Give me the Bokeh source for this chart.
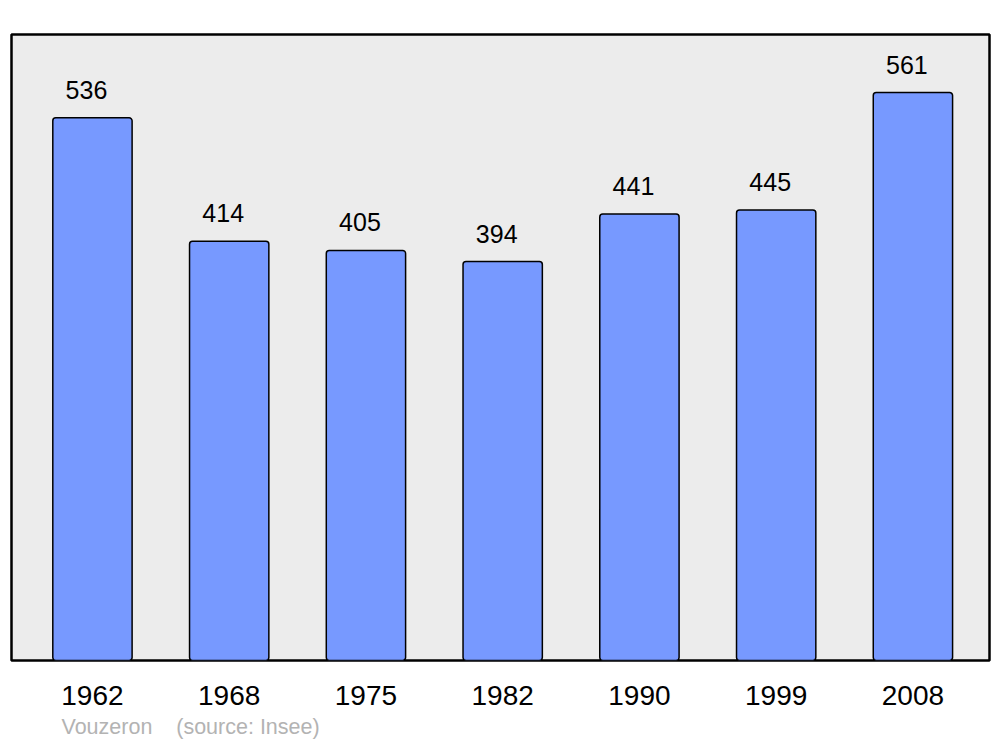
from bokeh.plotting import figure
from bokeh.models import ColumnDataSource, Range1d, FixedTicker, Title
from bokeh.core.properties import value
from bokeh.embed import file_html
from bokeh.resources import INLINE

years = ["1962", "1968", "1975", "1982", "1990", "1999", "2008"]
population = [536, 414, 405, 394, 441, 445, 561]
positions = list(range(len(years)))

src = ColumnDataSource(dict(x=positions, top=population,
                            label=[str(v) for v in population]))

p = figure(width=1000, height=745, output_backend="svg", toolbar_location=None,
           x_range=Range1d(-0.592, 6.56), y_range=Range1d(0, 618.3),
           min_border_left=11, min_border_right=11, min_border_top=34,
           min_border_bottom=85)
p.background_fill_color = "#ececec"
p.border_fill_color = "white"
p.outline_line_color = "black"
p.outline_line_width = 2.5
p.xgrid.visible = False
p.ygrid.visible = False
p.yaxis.visible = False

p.vbar(x="x", top="top", bottom=0, width=0.58, source=src,
       fill_color="#7799ff", line_color="black", line_width=1.5,
       border_radius=3)

p.text(x="x", y="top", text="label", source=src, x_offset=-6, y_offset=-28,
       text_align="center", text_baseline="alphabetic",
       text_font=value("Liberation Sans"), text_font_size="25px",
       text_color="black")

ax = p.xaxis[0]
ax.ticker = FixedTicker(ticks=positions)
ax.major_label_overrides = {i: y for i, y in enumerate(years)}
ax.axis_line_color = None
ax.major_tick_line_color = None
ax.minor_tick_line_color = None
ax.major_label_standoff = 19
ax.major_label_text_font = "Liberation Sans"
ax.major_label_text_font_size = "28px"
ax.major_label_text_color = "black"

foot = Title(text="Vouzeron\u00a0\u00a0\u00a0\u00a0(source: Insee)", align="left",
             offset=50, standoff=10,
             text_font="Liberation Sans", text_font_size="21.5px",
             text_font_style="normal", text_color="#b3b3b3")
p.add_layout(foot, "below")

open("out.html", "w").write(file_html(p, INLINE))
